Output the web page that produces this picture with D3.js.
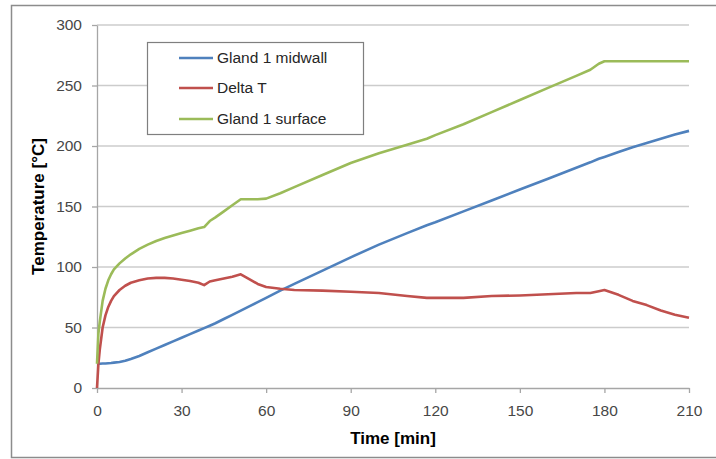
<!DOCTYPE html>
<html>
<head>
<meta charset="utf-8">
<script src="https://cdn.jsdelivr.net/npm/d3@7"></script>
<style>
  body { margin: 0; background: #fff; }
  text { font-family: "Liberation Sans", Arial, sans-serif; }
</style>
</head>
<body>
<div id="chart"></div>
<script>
// time [min] and readings for each series
const timeMin = [0, 0.5, 1, 2, 3, 4, 5, 6, 8, 10, 12, 15, 18, 21, 24, 27, 30, 33, 36, 38, 40, 42, 45, 48, 51, 54, 57, 60, 65, 70, 80, 90, 100, 110, 117, 120, 130, 140, 150, 160, 170, 175, 178, 180, 185, 190, 195, 200, 205, 210];
const midwall = [20, 20, 20, 20.2, 20.3, 20.5, 20.7, 21, 21.5, 22.5, 24, 26.5, 29.5, 32.5, 35.5, 38.5, 41.5, 44.5, 47.5, 49.5, 51.5, 53.5, 57, 60.5, 64, 67.5, 71, 74.5, 80.5, 86, 97, 108, 118.5, 128, 134.5, 137, 146, 155, 164, 173, 182, 186.5, 189.5, 191, 195, 199, 202.5, 206, 209.5, 212.5];
const deltaT = [0, 20, 32, 50, 60, 67, 72, 76, 81, 84.5, 87, 89, 90.5, 91, 91, 90.5, 89.5, 88.5, 87, 85, 88, 89, 90.5, 92, 94, 90, 86, 83.5, 82, 81, 80.5, 79.5, 78.5, 76, 74.5, 74.5, 74.5, 76, 76.5, 77.5, 78.5, 78.5, 80, 81, 77, 72, 68.5, 64, 60.5, 58];
const surface = [20, 45, 55, 72, 82, 89, 94, 98, 103, 107, 110.5, 115, 118.5, 121.5, 124, 126, 128, 130, 132, 133, 138, 141, 146, 151, 156, 156, 156, 156.5, 161, 166, 176, 186, 194, 201, 206, 209, 218, 228, 238, 248, 258, 263, 268, 270, 270, 270, 270, 270, 270, 270];

const seriesNames = ["Gland 1 midwall", "Delta T", "Gland 1 surface"];
const seriesColors = ["#4f81bd", "#c0504d", "#9bbb59"];
const xTicks = [0, 30, 60, 90, 120, 150, 180, 210];
const yTicks = [0, 50, 100, 150, 200, 250, 300];

const width = 716, height = 459;
const margin = {left: 97, right: 27, top: 25, bottom: 71};

const svg = d3.select("#chart").append("svg")
    .attr("width", width).attr("height", height);

// outer chart frame
svg.append("rect")
    .attr("x", 11.5).attr("y", 5.5)
    .attr("width", 712).attr("height", 452)
    .attr("fill", "none").attr("stroke", "#8c8c8c").attr("stroke-width", 1.5);

let x = d3.scaleLinear().domain([0, 210]).range([margin.left, width - margin.right]);
let y = d3.scaleLinear().domain([0, 300]).range([height - margin.bottom, margin.top]);

// gridlines
svg.append("g").selectAll("line")
    .data(yTicks.filter(d => d > 0))
    .join("line")
    .attr("x1", x(0)).attr("x2", x(210))
    .attr("y1", d => y(d)).attr("y2", d => y(d))
    .attr("stroke", "#cccccc").attr("stroke-width", 1.3);

const xAxis = svg.append("g")
    .attr("transform", `translate(0,${y(0)})`)
    .call(d3.axisBottom(x).tickValues(xTicks).tickSize(5).tickSizeOuter(0).tickPadding(12));
const yAxis = svg.append("g")
    .attr("transform", `translate(${x(0)},0)`)
    .call(d3.axisLeft(y).tickValues(yTicks).tickSize(5).tickSizeOuter(0).tickPadding(10));

[xAxis, yAxis].forEach(g => {
    g.selectAll("path, line").attr("stroke", "#a6a6a6").attr("stroke-width", 1.3);
    g.selectAll("text").attr("fill", "#474747")
        .style("font-family", "'Liberation Sans', Arial, sans-serif").style("font-size", "15.5px");
});

// axis titles
svg.append("text")
    .attr("x", (x(0) + x(210)) / 2).attr("y", 444)
    .attr("text-anchor", "middle")
    .attr("font-weight", "bold").attr("font-size", 17)
    .text("Time [min]");
svg.append("text")
    .attr("transform", `translate(44,${(y(0) + y(300)) / 2}) rotate(-90)`)
    .attr("text-anchor", "middle")
    .attr("font-weight", "bold").attr("font-size", 17)
    .text("Temperature [°C]");

// series lines
const allSeries = [midwall, deltaT, surface];
let getPath = d3.line().x((d, i) => x(timeMin[i])).y(d => y(d));
svg.append("g").selectAll("path")
    .data(allSeries)
    .join("path")
    .attr("d", d => getPath(d))
    .attr("fill", "none")
    .attr("stroke", (d, i) => seriesColors[i])
    .attr("stroke-width", 2.6)
    .attr("stroke-linejoin", "round");

// legend
const legend = svg.append("g");
legend.append("rect")
    .attr("x", 147.5).attr("y", 42.5).attr("width", 216).attr("height", 92)
    .attr("fill", "#fff").attr("stroke", "#7f7f7f").attr("stroke-width", 1.2);
const rowY = [58, 88, 119];
seriesNames.forEach((name, i) => {
    legend.append("line")
        .attr("x1", 179).attr("x2", 213)
        .attr("y1", rowY[i]).attr("y2", rowY[i])
        .attr("stroke", seriesColors[i]).attr("stroke-width", 2.6);
    legend.append("text")
        .attr("x", 217).attr("y", rowY[i]).attr("dy", "0.35em")
        .attr("font-size", 15.5).attr("fill", "#262626")
        .text(name);
});
</script>
</body>
</html>
